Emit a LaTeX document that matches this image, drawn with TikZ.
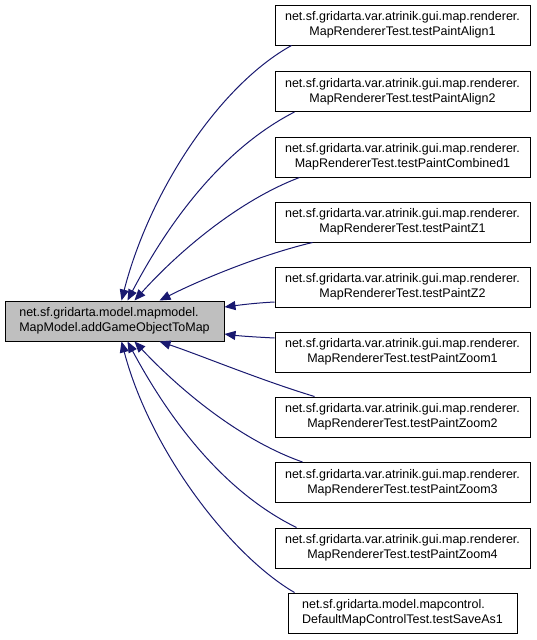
\documentclass[tikz,border=0pt]{standalone}
\usepackage{fontspec}
\setmainfont{Liberation Sans}
\usetikzlibrary{arrows.meta,calc}
\definecolor{edgeblue}{RGB}{25,25,112}
\definecolor{focusgray}{RGB}{191,191,191}
\begin{document}
\begin{tikzpicture}[x=1pt,y=-1pt,
  box/.style={draw=black,line width=1pt,inner sep=0pt,minimum height=40pt,
    font={\fontsize{12.5}{15}\selectfont}},
  rbox/.style={box,minimum width=255pt,align=center},
  edge/.style={draw=edgeblue,line width=1pt,-{Triangle[length=11pt,width=9pt]}}]
\useasboundingbox (0,0) rectangle (536,640);
\node[box,fill=focusgray,minimum width=219pt,align=left] (m) at (114.5,321)
  {net.sf.gridarta.model.mapmodel.\\MapModel.addGameObjectToMap};
\node[rbox] (n1) at (402.5,25) {net.sf.gridarta.var.atrinik.gui.map.renderer.\\MapRendererTest.testPaintAlign1};
\node[rbox] (n2) at (402.5,91.5) {net.sf.gridarta.var.atrinik.gui.map.renderer.\\MapRendererTest.testPaintAlign2};
\node[rbox] (n3) at (402.5,157) {net.sf.gridarta.var.atrinik.gui.map.renderer.\\MapRendererTest.testPaintCombined1};
\node[rbox] (n4) at (402.5,222) {net.sf.gridarta.var.atrinik.gui.map.renderer.\\MapRendererTest.testPaintZ1};
\node[rbox] (n5) at (402.5,287) {net.sf.gridarta.var.atrinik.gui.map.renderer.\\MapRendererTest.testPaintZ2};
\node[rbox] (n6) at (402.5,352) {net.sf.gridarta.var.atrinik.gui.map.renderer.\\MapRendererTest.testPaintZoom1};
\node[rbox] (n7) at (402.5,417) {net.sf.gridarta.var.atrinik.gui.map.renderer.\\MapRendererTest.testPaintZoom2};
\node[rbox] (n8) at (402.5,482.5) {net.sf.gridarta.var.atrinik.gui.map.renderer.\\MapRendererTest.testPaintZoom3};
\node[rbox] (n9) at (402.5,548) {net.sf.gridarta.var.atrinik.gui.map.renderer.\\MapRendererTest.testPaintZoom4};
\node[box,minimum width=229pt,align=left] (n10) at (402.5,613)
  {net.sf.gridarta.model.mapcontrol.\\DefaultMapControlTest.testSaveAs1};
% edges
\path[edge] ($(n1.south west)+(17,0)$) .. controls (220,85) and (150,190) .. ($(m.north west)+(117,0)$);
\path[edge] ($(n2.south west)+(20,0)$) .. controls (230,145) and (175,210) .. ($(m.north west)+(123,0)$);
\path[edge] ($(n3.south west)+(25,0)$) .. controls (240,200) and (180,250) .. ($(m.north west)+(130,0)$);
\path[edge] ($(n4.south west)+(38,0)$) .. controls (260,255) and (200,280) .. ($(m.north west)+(155,0)$);
\path[edge] ($(n5.west)+(0,15)$) .. controls (255,303) and (240,305) .. ($(m.east)+(0,-14)$);
\path[edge] ($(n6.west)+(0,-14)$) .. controls (255,337) and (240,336) .. ($(m.east)+(0,13)$);
\path[edge] ($(n7.north west)+(40,0)$) .. controls (260,380) and (200,355) .. ($(m.south west)+(155,0)$);
\path[edge] ($(n8.north west)+(28,0)$) .. controls (240,440) and (180,390) .. ($(m.south west)+(130,0)$);
\path[edge] ($(n9.north west)+(22,0)$) .. controls (230,495) and (175,430) .. ($(m.south west)+(123,0)$);
\path[edge] ($(n10.north west)+(7,0)$) .. controls (230,555) and (150,450) .. ($(m.south west)+(117,0)$);
\end{tikzpicture}
\end{document}
